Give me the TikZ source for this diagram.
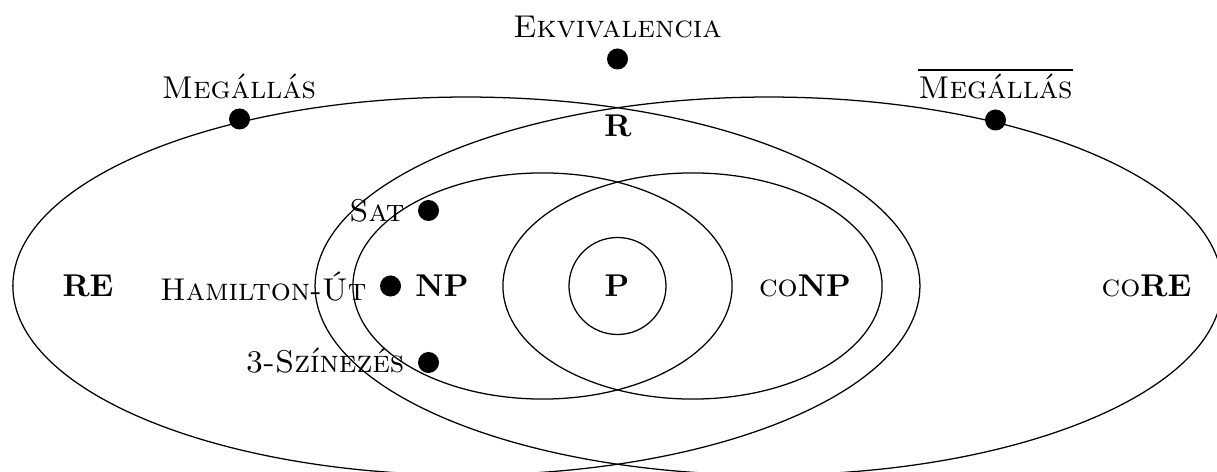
\documentclass[tikz,border=0pt]{standalone}
\usepackage{fontspec}
\begin{document}
\begin{tikzpicture}[x=0.3175pt, y=-0.3175pt,
  set/.style={line width=0.4pt},
  problem/.style={circle, fill=black, inner sep=0pt, minimum size=6.67pt},
  lbl/.style={anchor=base, inner sep=0pt},
  lbleast/.style={anchor=base east, inner sep=0pt},
]
\useasboundingbox (0,0) rectangle (1217,472);

% recursively enumerable and co-RE sets (their intersection is R)
\draw[set] (466.4,286) ellipse [x radius=144pt, y radius=60pt];
\draw[set] (768.6,286) ellipse [x radius=144pt, y radius=60pt];
% NP and coNP
\draw[set] (542.5,286) ellipse [x radius=60.2pt, y radius=35.9pt];
\draw[set] (692.5,286) ellipse [x radius=60.2pt, y radius=35.9pt];
% P
\draw[set] (617.5,286) circle [radius=15.4pt];

% class names
\node[lbl] (re)   at (88,297)    {\textbf{RE}};
\node[lbl] (core) at (1146.5,297) {\textsc{co}\textbf{RE}};
\node[lbl] (r)    at (618,137)   {\textbf{R}};
\node[lbl] (np)   at (442,297)   {\textbf{NP}};
\node[lbl] (p)    at (617,297)   {\textbf{P}};
\node[lbl] (conp) at (805,297)   {\textsc{co}\textbf{NP}};

% problems
\node[problem] (halt)   at (239.5,119) {};
\node[problem] (equiv)  at (617.5,59)  {};
\node[problem] (cohalt) at (995.5,120) {};
\node[problem] (sat)    at (428.5,210.5) {};
\node[problem] (ham)    at (390.5,286) {};
\node[problem] (col)    at (428.5,362.5) {};

\node[lbl] (haltl)   at (239,99)    {\textsc{Megállás}};
\node[lbl] (equivl)  at (617.5,38)  {\textsc{Ekvivalencia}};
\node[lbl] (cohaltl) at (995.5,99)  {$\overline{\hbox{\textsc{Megállás}}}$};
\node[lbleast] (satl) at (405,222)  {\textsc{Sat}};
\node[lbleast] (haml) at (367,301)  {\textsc{Hamilton-Út}};
\node[lbleast] (coll) at (405,373)  {\textsc{3-Színezés}};
\end{tikzpicture}
\end{document}
